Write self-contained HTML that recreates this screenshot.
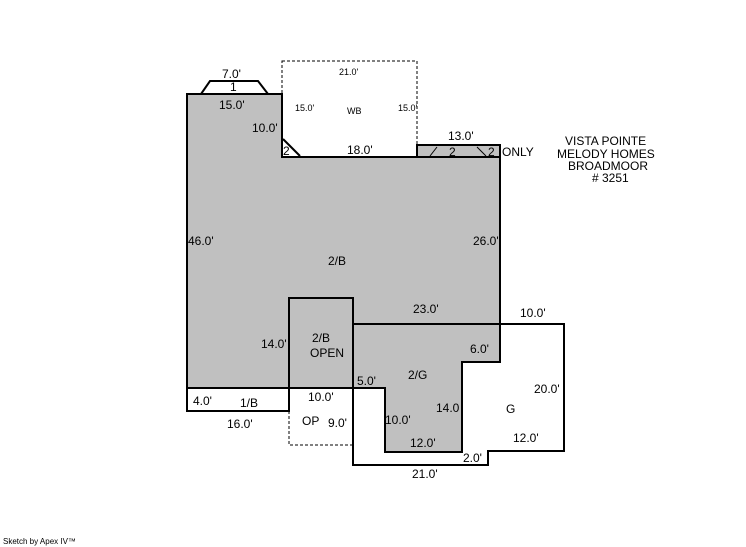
<!DOCTYPE html><html><head><style>body{margin:0;background:#fff}svg{display:block}text{font-family:"Liberation Sans",sans-serif;font-size:12px;fill:#000}.s{font-size:9px}</style></head><body>
<svg width="746" height="547" viewBox="0 0 746 547">
<rect x="282" y="61" width="135" height="96" fill="none" stroke="#000" stroke-dasharray="3,2"/>
<polygon points="353,324 564,324 564,451 488,451 488,465 353,465 353,388" fill="#fff" stroke="#000" stroke-width="2"/>
<polygon points="187,94 282,94 282,157 500,157 500,362 462,362 462,452 385,452 385,388 187,388" fill="#c0c0c0" stroke="#000" stroke-width="2"/>
<rect x="289" y="298" width="64" height="90" fill="none" stroke="#000" stroke-width="2"/>
<polyline points="353,388 353,324 500,324" fill="none" stroke="#000" stroke-width="2"/>
<rect x="187" y="388" width="102" height="23" fill="#fff" stroke="#000" stroke-width="2"/>
<polyline points="289,411 289,445 353,445" fill="none" stroke="#000" stroke-dasharray="3,2"/>
<rect x="417" y="145" width="83" height="12" fill="#c0c0c0" stroke="#000" stroke-width="2"/>
<polyline points="201,94 210,81 258,81 268,94" fill="none" stroke="#000" stroke-width="2"/>
<polyline points="283,139 300,156" fill="none" stroke="#000" stroke-width="2"/>
<line x1="430" y1="156" x2="437" y2="147" stroke="#000"/><line x1="477" y1="147" x2="486" y2="156" stroke="#000"/>
<text x="222" y="78">7.0'</text><text x="230" y="91">1</text>
<text x="219" y="109">15.0'</text><text x="252" y="132">10.0'</text><text x="283" y="155">2</text>
<text x="347" y="154">18.0'</text><text x="448" y="140">13.0'</text>
<text x="449" y="156">2</text><text x="488" y="156">2</text><text x="502" y="156">ONLY</text>
<text class="s" x="339" y="75">21.0'</text><text class="s" x="295" y="111">15.0'</text><text class="s" x="347" y="114">WB</text><text class="s" x="398" y="111">15.0'</text>
<text x="565" y="145">VISTA POINTE</text><text x="557" y="158">MELODY HOMES</text><text x="568" y="170">BROADMOOR</text><text x="592" y="182"># 3251</text>
<text x="188" y="245">46.0'</text><text x="473" y="245">26.0'</text><text x="328" y="265">2/B</text>
<text x="413" y="313">23.0'</text><text x="520" y="317">10.0'</text>
<text x="261" y="348">14.0'</text><text x="312" y="342">2/B</text><text x="310" y="357">OPEN</text>
<text x="470" y="353">6.0'</text><text x="408" y="379">2/G</text><text x="357" y="385">5.0'</text>
<text x="534" y="393">20.0'</text><text x="193" y="405">4.0'</text><text x="240" y="407">1/B</text><text x="308" y="401">10.0'</text>
<text x="385" y="424">10.0'</text><text x="436" y="412">14.0</text><text x="506" y="413">G</text>
<text x="302" y="425">OP</text><text x="328" y="427">9.0'</text><text x="227" y="428">16.0'</text>
<text x="410" y="447">12.0'</text><text x="513" y="442">12.0'</text><text x="463" y="462">2.0'</text><text x="412" y="478">21.0'</text>
<text style="font-size:8px" x="3" y="544">Sketch by Apex IV™</text>
</svg></body></html>
